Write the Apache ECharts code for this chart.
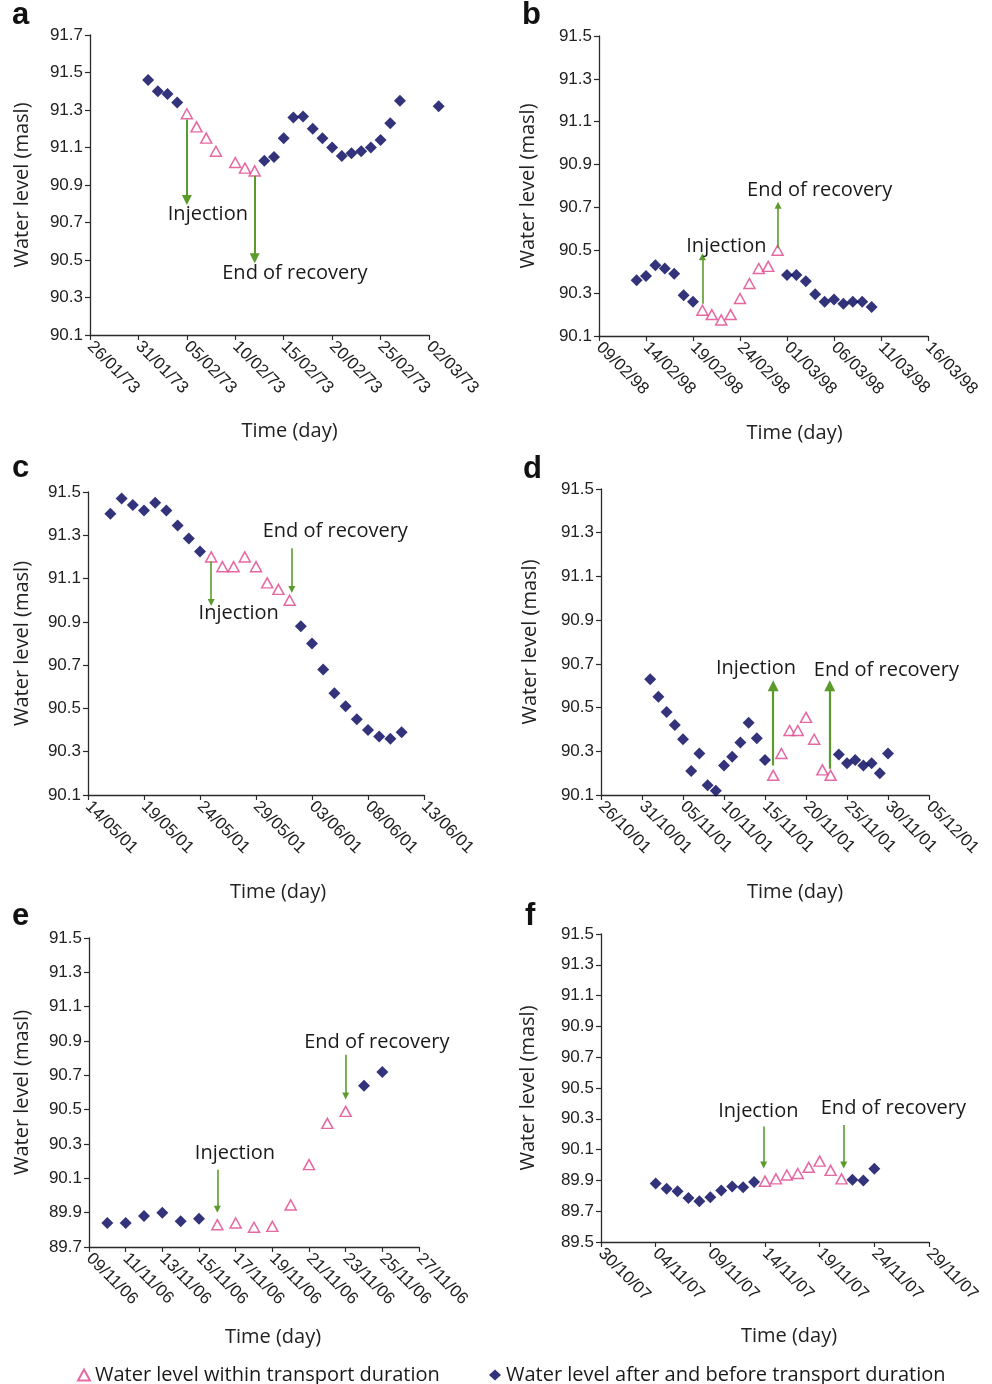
<!DOCTYPE html>
<html><head><meta charset="utf-8">
<script src="https://cdn.jsdelivr.net/npm/echarts@6/dist/echarts.min.js"></script>
<style>html,body{margin:0;padding:0;background:#fff}#c{width:992px;height:1384px}</style>
</head><body><div id="c"></div>
<script>
// ---------- DATA ----------
const IN_NAME = 'Water level within transport duration';
const OUT_NAME = 'Water level after and before transport duration';

// Panel a (1973)
const aTicksX = ['26/01/73','31/01/73','05/02/73','10/02/73','15/02/73','20/02/73','25/02/73','02/03/73'];
const aTicksY = [90.1,90.3,90.5,90.7,90.9,91.1,91.3,91.5,91.7];
const aOutDates = ['01/02/73','02/02/73','03/02/73','04/02/73','13/02/73','14/02/73','15/02/73','16/02/73','17/02/73','18/02/73','19/02/73','20/02/73','21/02/73','22/02/73','23/02/73','24/02/73','25/02/73','26/02/73','27/02/73','03/03/73'];
const aOutLevels = [91.46,91.40,91.385,91.34,91.03,91.05,91.15,91.26,91.265,91.20,91.15,91.10,91.055,91.07,91.08,91.10,91.14,91.23,91.35,91.32];
const aInDates = ['05/02/73','06/02/73','07/02/73','08/02/73','10/02/73','11/02/73','12/02/73'];
const aInLevels = [91.28,91.21,91.15,91.08,91.02,90.99,90.975];

// Panel b (1998)
const bTicksX = ['09/02/98','14/02/98','19/02/98','24/02/98','01/03/98','06/03/98','11/03/98','16/03/98'];
const bTicksY = [90.1,90.3,90.5,90.7,90.9,91.1,91.3,91.5];
const bOutDates = ['13/02/98','14/02/98','15/02/98','16/02/98','17/02/98','18/02/98','19/02/98','01/03/98','02/03/98','03/03/98','04/03/98','05/03/98','06/03/98','07/03/98','08/03/98','09/03/98','10/03/98'];
const bOutLevels = [90.36,90.38,90.43,90.415,90.39,90.29,90.26,90.385,90.385,90.355,90.295,90.26,90.27,90.25,90.26,90.26,90.235];
const bInDates = ['20/02/98','21/02/98','22/02/98','23/02/98','24/02/98','25/02/98','26/02/98','27/02/98','28/02/98'];
const bInLevels = [90.22,90.20,90.175,90.20,90.275,90.345,90.415,90.425,90.50];

// Panel c (2001)
const cTicksX = ['14/05/01','19/05/01','24/05/01','29/05/01','03/06/01','08/06/01','13/06/01'];
const cTicksY = [90.1,90.3,90.5,90.7,90.9,91.1,91.3,91.5];
const cOutDates = ['16/05/01','17/05/01','18/05/01','19/05/01','20/05/01','21/05/01','22/05/01','23/05/01','24/05/01','02/06/01','03/06/01','04/06/01','05/06/01','06/06/01','07/06/01','08/06/01','09/06/01','10/06/01','11/06/01'];
const cOutLevels = [91.40,91.47,91.44,91.415,91.45,91.415,91.345,91.285,91.225,90.88,90.80,90.68,90.57,90.51,90.45,90.40,90.37,90.36,90.39];
const cInDates = ['25/05/01','26/05/01','27/05/01','28/05/01','29/05/01','30/05/01','31/05/01','01/06/01'];
const cInLevels = [91.20,91.155,91.155,91.20,91.155,91.08,91.05,91.00];

// Panel d (2001)
const dTicksX = ['26/10/01','31/10/01','05/11/01','10/11/01','15/11/01','20/11/01','25/11/01','30/11/01','05/12/01'];
const dTicksY = [90.1,90.3,90.5,90.7,90.9,91.1,91.3,91.5];
const dOutDates = ['01/11/01','02/11/01','03/11/01','04/11/01','05/11/01','06/11/01','07/11/01','08/11/01','09/11/01','10/11/01','11/11/01','12/11/01','13/11/01','14/11/01','15/11/01','24/11/01','25/11/01','26/11/01','27/11/01','28/11/01','29/11/01','30/11/01'];
const dOutLevels = [90.63,90.55,90.48,90.42,90.355,90.21,90.29,90.145,90.12,90.235,90.275,90.34,90.43,90.36,90.26,90.285,90.245,90.26,90.235,90.245,90.20,90.29];
const dInDates = ['16/11/01','17/11/01','18/11/01','19/11/01','20/11/01','21/11/01','22/11/01','23/11/01'];
const dInLevels = [90.19,90.29,90.395,90.395,90.455,90.355,90.215,90.19];

// Panel e (2006)
const eTicksX = ['09/11/06','11/11/06','13/11/06','15/11/06','17/11/06','19/11/06','21/11/06','23/11/06','25/11/06','27/11/06'];
const eTicksY = [89.7,89.9,90.1,90.3,90.5,90.7,90.9,91.1,91.3,91.5];
const eOutDates = ['10/11/06','11/11/06','12/11/06','13/11/06','14/11/06','15/11/06','24/11/06','25/11/06'];
const eOutLevels = [89.84,89.84,89.88,89.90,89.85,89.865,90.64,90.72];
const eInDates = ['16/11/06','17/11/06','18/11/06','19/11/06','20/11/06','21/11/06','22/11/06','23/11/06'];
const eInLevels = [89.83,89.84,89.815,89.82,89.945,90.18,90.42,90.49];

// Panel f (2007)
const fTicksX = ['30/10/07','04/11/07','09/11/07','14/11/07','19/11/07','24/11/07','29/11/07'];
const fTicksY = [89.5,89.7,89.9,90.1,90.3,90.5,90.7,90.9,91.1,91.3,91.5];
const fOutDates = ['04/11/07','05/11/07','06/11/07','07/11/07','08/11/07','09/11/07','10/11/07','11/11/07','12/11/07','13/11/07','22/11/07','23/11/07','24/11/07'];
const fOutLevels = [89.88,89.845,89.83,89.785,89.765,89.79,89.835,89.86,89.855,89.89,89.905,89.90,89.975];
const fInDates = ['14/11/07','15/11/07','16/11/07','17/11/07','18/11/07','19/11/07','20/11/07','21/11/07'];
const fInLevels = [89.895,89.91,89.935,89.945,89.985,90.025,89.965,89.91];

// ---------- LAYOUT / ANNOTATIONS ----------
const panels = [
  {letter:'a', lx:12, ly:17, tx:aTicksX, ty:aTicksY, od:aOutDates, ov:aOutLevels, id:aInDates, iv:aInLevels,
   grid:{left:90, top:35, width:339, height:300}, yGap:58, xGap:86, xShift:30, head:10, lw:2,
   arrows:[[10,91.25,90.82],[17,90.95,90.51]], notes:[['Injection',12.17,90.745],['End of recovery',21.15,90.43]]},
  {letter:'b', lx:522, ly:17, tx:bTicksX, ty:bTicksY, od:bOutDates, ov:bOutLevels, id:bInDates, iv:bInLevels,
   grid:{left:599, top:36, width:329, height:300}, yGap:61, xGap:87, xShift:31, head:7, lw:1.6,
   arrows:[[11,90.25,90.47],[19.05,90.51,90.71]], notes:[['Injection',13.55,90.517],['End of recovery',23.48,90.78]]},
  {letter:'c', lx:12, ly:470, tx:cTicksX, ty:cTicksY, od:cOutDates, ov:cOutLevels, id:cInDates, iv:cInLevels,
   grid:{left:88, top:492, width:336, height:303}, yGap:56, xGap:87, xShift:22, head:7, lw:1.6,
   arrows:[[11,91.18,90.99],[18.2,91.24,91.05]], notes:[['Injection',13.45,90.94],['End of recovery',22.08,91.318]]},
  {letter:'d', lx:523, ly:471, tx:dTicksX, ty:dTicksY, od:dOutDates, ov:dOutLevels, id:dInDates, iv:dInLevels,
   grid:{left:601, top:489, width:328, height:306}, yGap:61, xGap:87, xShift:30, head:11, lw:2.2,
   arrows:[[21,90.235,90.6],[27.9,90.22,90.6]], notes:[['Injection',18.9,90.68],['End of recovery',34.8,90.672]]},
  {letter:'e', lx:12, ly:918, tx:eTicksX, ty:eTicksY, od:eOutDates, ov:eOutLevels, id:eInDates, iv:eInLevels,
   grid:{left:89, top:938, width:330, height:309}, yGap:57, xGap:80, xShift:19, head:7, lw:1.6,
   arrows:[[7,90.15,89.92],[14,90.82,90.58]], notes:[['Injection',7.96,90.244],['End of recovery',15.7,90.894]]},
  {letter:'f', lx:525, ly:918, tx:fTicksX, ty:fTicksY, od:fOutDates, ov:fOutLevels, id:fInDates, iv:fInLevels,
   grid:{left:601, top:934, width:328, height:308}, yGap:63, xGap:84, xShift:24, head:7, lw:1.6,
   arrows:[[14.88,90.25,90.0],[22.2,90.26,90.0]], notes:[['Injection',14.39,90.35],['End of recovery',26.74,90.367]]}
];

// ---------- HELPERS ----------
function utc(s){ const p=s.split('/').map(Number); const y=p[2]>50?1900+p[2]:2000+p[2]; return Date.UTC(y,p[1]-1,p[0]); }
function dayOf(s, origin){ return Math.round((utc(s)-utc(origin))/86400000); }

const AXIS_COLOR = '#2a2a2a';
const LABEL_FONT = 'Liberation Sans, Arial, sans-serif';
const TEXT_FONT = 'Open Sans, Noto Sans, sans-serif';
const NAVY = '#00005a';
const PINK = '#e0428c';
const GREEN = '#5b9b2c';

const grids=[], xAxes=[], yAxes=[], series=[], graphics=[];
panels.forEach((p,i)=>{
  const origin = p.tx[0];
  const tickDays = p.tx.map(t=>dayOf(t,origin));
  grids.push(Object.assign({containLabel:false}, p.grid));
  xAxes.push({
    type:'value', gridIndex:i, min:0, max:tickDays[tickDays.length-1],
    name:'Time (day)', nameLocation:'middle', nameGap:p.xGap,
    nameTextStyle:{fontSize:20, fontFamily:TEXT_FONT, color:'#222', padding:[0,0,0,p.xShift*2]},
    splitLine:{show:false},
    axisLine:{show:true, onZero:false, lineStyle:{color:AXIS_COLOR, width:1.3}},
    axisTick:{show:true, length:5, customValues:tickDays, lineStyle:{color:AXIS_COLOR, width:1.2}},
    axisLabel:{show:true, rotate:-45, margin:9, fontSize:17, fontFamily:LABEL_FONT, color:'#222',
      customValues:tickDays, formatter:v=>{const k=tickDays.indexOf(Math.round(v)); return k>=0?p.tx[k]:'';}}
  });
  yAxes.push({
    type:'value', gridIndex:i, min:p.ty[0], max:p.ty[p.ty.length-1],
    name:'Water level (masl)', nameLocation:'middle', nameGap:p.yGap, nameRotate:90,
    nameTextStyle:{fontSize:20, fontFamily:TEXT_FONT, color:'#222'},
    splitLine:{show:false},
    axisLine:{show:true, lineStyle:{color:AXIS_COLOR, width:1.3}},
    axisTick:{show:true, length:5, customValues:p.ty, lineStyle:{color:AXIS_COLOR, width:1.2}},
    axisLabel:{show:true, margin:7, fontSize:17, fontFamily:LABEL_FONT, color:'#222',
      customValues:p.ty, formatter:v=>v.toFixed(1)}
  });
  series.push({
    type:'scatter', name:OUT_NAME, xAxisIndex:i, yAxisIndex:i, clip:false,
    symbol:'diamond', symbolSize:[12,12], itemStyle:{color:NAVY},
    data:p.od.map((d,k)=>[dayOf(d,origin), p.ov[k]]), z:3
  });
  series.push({
    type:'scatter', name:IN_NAME, xAxisIndex:i, yAxisIndex:i, clip:false,
    symbol:'triangle', symbolSize:[11,10], itemStyle:{color:'#fff', borderColor:PINK, borderWidth:1.5},
    data:p.id.map((d,k)=>[dayOf(d,origin), p.iv[k]]), z:3,
    markLine:{silent:true, animation:false, symbol:['none','triangle'], symbolSize:p.head,
      lineStyle:{color:GREEN, width:p.lw, type:'solid'}, label:{show:false}, emphasis:{disabled:true},
      data:p.arrows.map(a=>[{coord:[a[0],a[1]]},{coord:[a[0],a[2]]}])},
    markPoint:{silent:true, animation:false, symbol:'circle', symbolSize:1,
      itemStyle:{color:'rgba(0,0,0,0)'},
      label:{show:true, position:'inside', formatter:'{b}', fontSize:20, fontFamily:TEXT_FONT, color:'#1a1a1a'},
      data:p.notes.map(n=>({name:n[0], coord:[n[1],n[2]]}))}
  });
  graphics.push({type:'text', left:p.lx, top:p.ly-17, style:{text:p.letter, font:'bold 31px Liberation Sans, Arial, sans-serif', fill:'#111'}});
});

const legendText = {fontSize:20, fontFamily:TEXT_FONT, color:'#1a1a1a'};
const chart = echarts.init(document.getElementById('c'), null, {renderer:'canvas'});
chart.setOption({
  animation:false,
  backgroundColor:'#fff',
  grid:grids, xAxis:xAxes, yAxis:yAxes, series:series,
  legend:[
    {data:[IN_NAME], left:72, top:1360, itemWidth:12, itemHeight:11, itemGap:10, textStyle:legendText, selectedMode:false},
    {data:[OUT_NAME], left:484, top:1360, itemWidth:12, itemHeight:11, itemGap:10, textStyle:legendText, selectedMode:false}
  ],
  graphic:graphics
});
</script></body></html>
